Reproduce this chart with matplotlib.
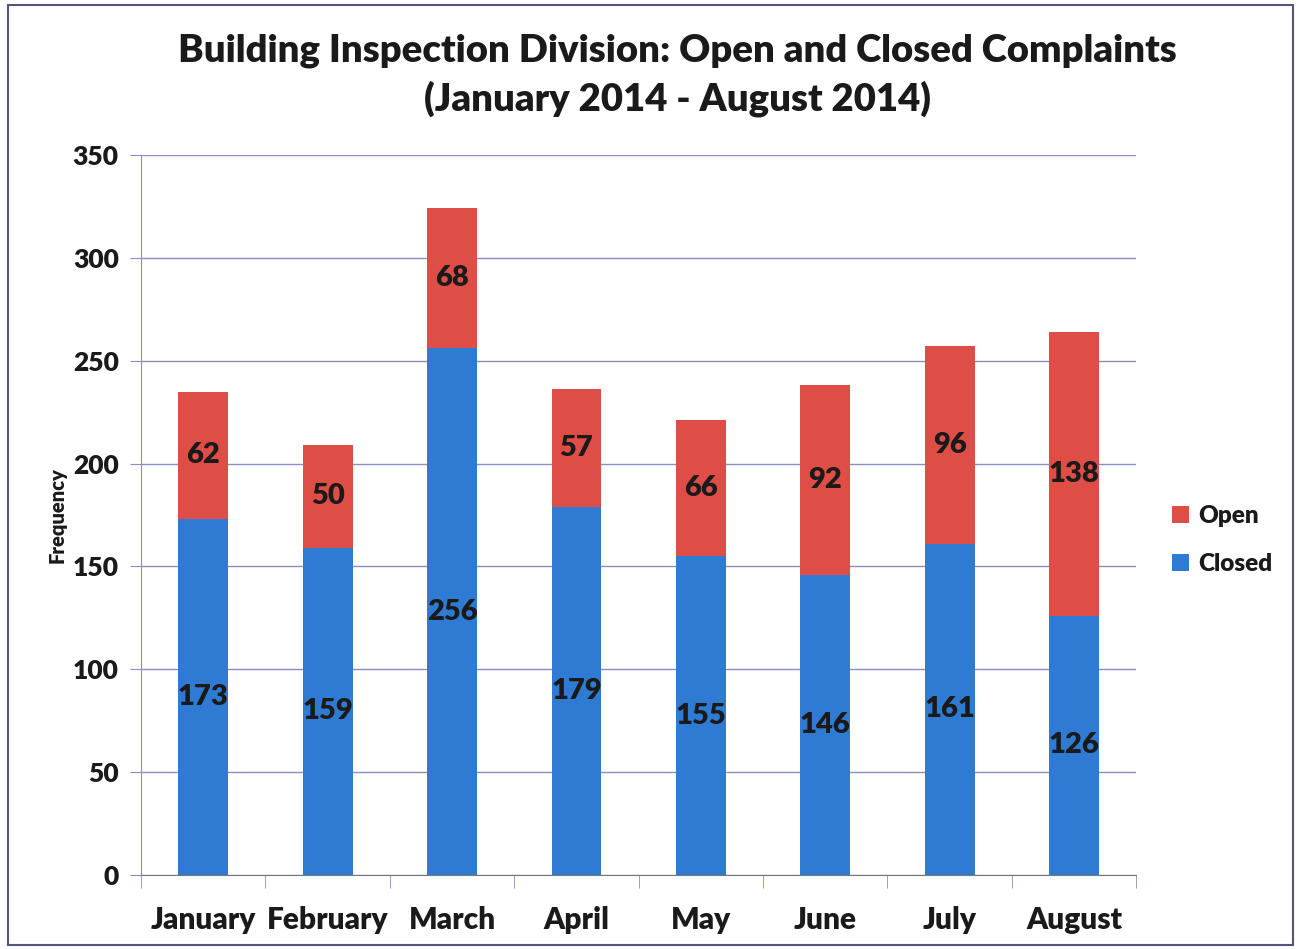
import matplotlib
matplotlib.use("Agg")
import matplotlib.pyplot as plt
from matplotlib.patches import Rectangle
import numpy as np

months = ["January", "February", "March", "April", "May", "June", "July", "August"]
closed = [173, 159, 256, 179, 155, 146, 161, 126]
open_ = [62, 50, 68, 57, 66, 92, 96, 138]

blue = "#2F7BD4"
red = "#DE4E46"
grid_col = "#8A8FC0"
txt = "#1a1a1a"

plt.rcParams["font.family"] = ["Lato", "DejaVu Sans"]
plt.rcParams["font.weight"] = "heavy"

fig = plt.figure(figsize=(13.01, 9.49), dpi=100)
ax = fig.add_axes([0.1084, 0.078, 0.765, 0.7587])

x = np.arange(len(months))
b1 = ax.bar(x, closed, width=0.4, color=blue, label="Closed", zorder=3)
b2 = ax.bar(x, open_, width=0.4, bottom=closed, color=red, label="Open", zorder=3)
ax.bar_label(b1, label_type="center", fontsize=21, fontweight="heavy", color=txt)
ax.bar_label(b2, label_type="center", fontsize=21, fontweight="heavy", color=txt)

ax.set_xlim(-0.5, len(months) - 0.5)
ax.set_ylim(0, 350)
ax.set_yticks(range(0, 351, 50))
ax.yaxis.grid(True, color=grid_col, linewidth=1.0, zorder=0)
ax.set_axisbelow(True)

ax.set_xticks(x)
ax.set_xticklabels(months, fontsize=21.5, fontweight="heavy", color=txt)
ax.set_xticks(np.arange(-0.5, len(months), 1), minor=True)
ax.tick_params(axis="x", which="major", length=0, pad=22)
ax.tick_params(axis="x", which="minor", length=9, color=grid_col, direction="out")
ax.tick_params(axis="y", length=8, color=grid_col, labelsize=19, labelcolor=txt, pad=8)

for s in ["top", "right"]:
    ax.spines[s].set_visible(False)
ax.spines["left"].set_color(grid_col)
ax.spines["bottom"].set_color("#777777")

ax.set_ylabel("Frequency", fontsize=14.5, fontweight="heavy", color=txt)
ax.yaxis.set_label_coords(-0.075, 0.5)

fig.suptitle("Building Inspection Division: Open and Closed Complaints\n(January 2014 - August 2014)",
             x=0.521, fontsize=27.5, fontweight="heavy", y=0.965, linespacing=1.42, color=txt)

h, l = ax.get_legend_handles_labels()
leg = fig.legend(h[::-1], l[::-1], loc="center left", bbox_to_anchor=(0.884, 0.431),
                 frameon=False, fontsize=17.5, handlelength=0.7, handleheight=0.7,
                 handletextpad=0.4, labelspacing=1.05)
for t in leg.get_texts():
    t.set_color(txt)

fig.patches.append(Rectangle((0.006, 0.004), 0.988, 0.991, transform=fig.transFigure,
                             fill=False, edgecolor="#555577", linewidth=1.5))

fig.savefig("out.png", dpi=100)
